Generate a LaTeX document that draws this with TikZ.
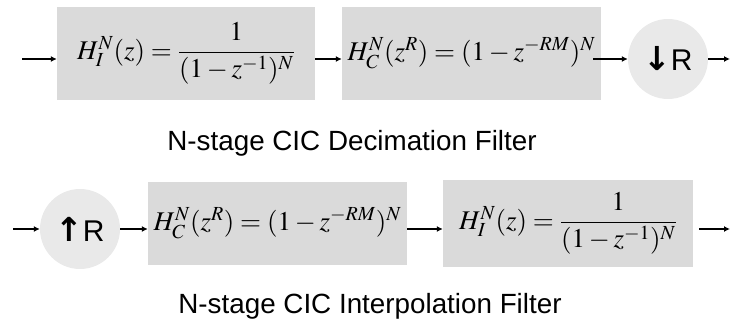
\documentclass[tikz,border=0pt]{standalone}
\usepackage{mathptmx}
\usepackage[no-math]{fontspec}
\newfontfamily\arialfont{Liberation Sans}
\newfontfamily\sympfont{DejaVu Sans}
\usetikzlibrary{arrows.meta, positioning}
\definecolor{boxgray}{RGB}{218,218,218}
\definecolor{ringgray}{RGB}{233,233,233}

\begin{document}
\begin{tikzpicture}[x=1pt, y=-1pt,
  filterbox/.style={fill=boxgray, minimum width=#1, minimum height=93pt, inner sep=0pt, font=\fontsize{27}{32}\selectfont},
  ratebox/.style={circle, fill=ringgray, minimum size=80pt, inner sep=0pt, font=\arialfont\fontsize{30}{36}\selectfont},
  flow/.style={-{Latex[length=6pt, width=6pt]}, line width=1.6pt},
  caption/.style={font=\arialfont\fontsize{27.8}{32}\selectfont}]

  \useasboundingbox (0,0) rectangle (731,328);

  \coordinate (in1) at (22,59);
  \coordinate (out1) at (730,59);
  \node[filterbox=258pt] (integ) at (186,53.5) {$H_I^N(z)=\displaystyle\frac{1}{(1-z^{-1})^N}$};
  \node[filterbox=259pt] (comb) at (471.5,53.5) {$H_C^N(z^R)=(1-z^{-RM})^N$};
  \node[ratebox] (down) at (668,59) {{\sympfont\bfseries\fontsize{33}{36}\selectfont ↓}R};
  \draw[flow] (in1) -- (integ.west |- in1);
  \draw[flow] (integ.east |- in1) -- (comb.west |- in1);
  \draw[flow] ([xshift=-8pt]comb.east |- in1) -- (down.west);
  \draw[flow] (down.east) -- (out1);
  \node[caption] (deccap) at (352,143) {N-stage CIC Decimation Filter};

  \coordinate (in2) at (13,229);
  \coordinate (out2) at (730,229);
  \node[ratebox] (up) at (80,229) {{\sympfont\bfseries\fontsize{33}{36}\selectfont ↑}R};
  \node[filterbox=259pt, minimum height=83pt] (comb2) at (277.5,223.5) {$H_C^N(z^R)=(1-z^{-RM})^N$};
  \node[filterbox=250pt, minimum height=87pt] (integ2) at (568,223.5) {$H_I^N(z)=\displaystyle\frac{1}{(1-z^{-1})^N}$};
  \draw[flow] (in2) -- (up.west);
  \draw[flow] (up.east) -- (comb2.west |- in2);
  \draw[flow] (comb2.east |- in2) -- (integ2.west |- in2);
  \draw[flow] ([xshift=6pt]integ2.east |- in2) -- (out2);
  \node[caption] (intcap) at (370,306) {N-stage CIC Interpolation Filter};
\end{tikzpicture}
\end{document}
